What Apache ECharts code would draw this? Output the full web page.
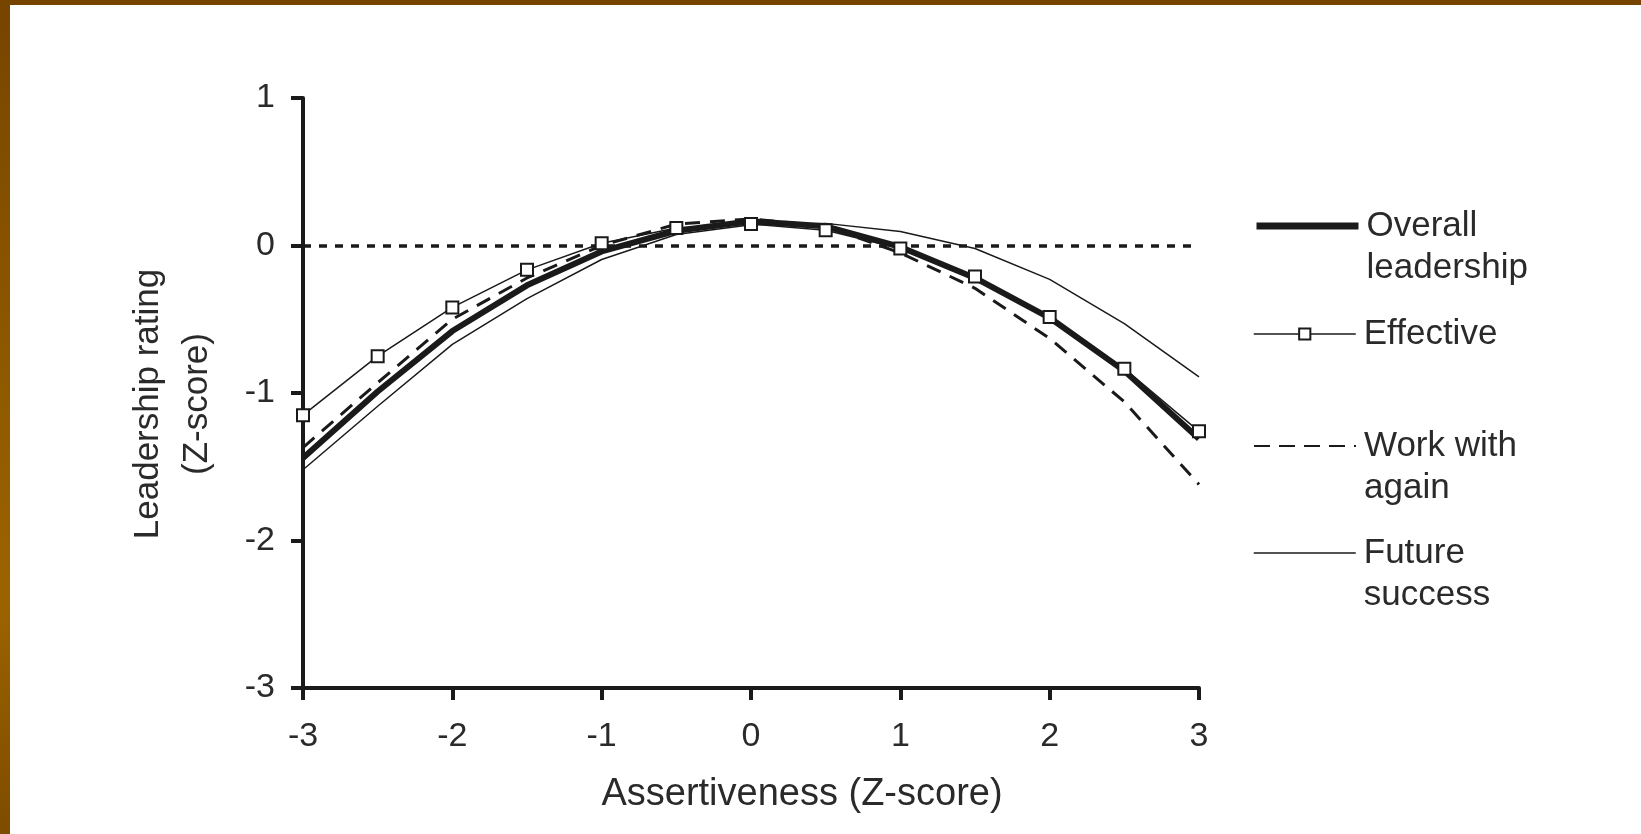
<!DOCTYPE html>
<html><head><meta charset="utf-8">
<script src="https://cdn.jsdelivr.net/npm/echarts@6/dist/echarts.min.js"></script>
<style>
html,body{margin:0;padding:0;background:#fff;width:1641px;height:834px;overflow:hidden}
#chart{position:absolute;left:0;top:0;width:1641px;height:834px}
#bt{position:absolute;left:0;top:0;width:1641px;height:5px;background:#774400;z-index:2}
#bl{position:absolute;left:0;top:0;width:10px;height:834px;background:linear-gradient(#774400,#875300 30%,#9c6300 72%,#7e4c00);z-index:2}
</style></head>
<body><div id="chart"></div><div id="bt"></div><div id="bl"></div>
<script>
// ---- data ----
const xValues = [-3, -2.5, -2, -1.5, -1, -0.5, 0, 0.5, 1, 1.5, 2, 2.5, 3];
const overallLeadership = [-1.44, -0.99, -0.58, -0.27, -0.04, 0.10, 0.165, 0.13, -0.01, -0.22, -0.49, -0.85, -1.31];
const effective = [-1.15, -0.75, -0.42, -0.165, 0.015, 0.118, 0.145, 0.103, -0.02, -0.21, -0.485, -0.835, -1.26];
const workWithAgain = [-1.37, -0.93, -0.50, -0.22, 0.0, 0.145, 0.18, 0.13, -0.05, -0.29, -0.63, -1.06, -1.62];
const futureSuccess = [-1.52, -1.09, -0.67, -0.36, -0.095, 0.075, 0.14, 0.15, 0.095, -0.02, -0.23, -0.53, -0.89];
const seriesNames = ['Overall\nleadership', 'Effective', 'Work with\nagain', 'Future\nsuccess'];
const xTitle = 'Assertiveness (Z-score)';
const yTitle = 'Leadership rating\n(Z-score)';
const referenceLine = 0;

const pairs = arr => xValues.map((x, i) => [x, arr[i]]);
const FONT = '"Liberation Sans", Arial, sans-serif';
const INK = '#1a1a1a';
const TXT = '#2a2a2a';

const chart = echarts.init(document.getElementById('chart'));

function legendFor(name, top, lineStyle, showSymbol) {
  return {
    data: [name], left: 1253, top: top, orient: 'vertical', padding: 0,
    itemWidth: 102, itemHeight: 14, selectedMode: false,
    lineStyle: lineStyle,
    itemStyle: showSymbol ? { color: '#fff', borderColor: INK, borderWidth: 2 } : { opacity: 0 },
    formatter: function (n) {
      const lines = n.split('\n');
      const body = lines.map(s => '{t|' + s + '}').join('\n');
      return lines.length > 1 ? '{t| }\n' + body : body;
    },
    textStyle: {
      fontFamily: FONT, fontSize: 35, color: TXT, lineHeight: 42,
      rich: { t: { fontFamily: FONT, fontSize: 35, color: TXT, lineHeight: 42, padding: [0, 0, 0, 3] } }
    }
  };
}

chart.setOption({
  animation: false,
  backgroundColor: '#fff',
  grid: { left: 303, right: 442, top: 98, bottom: 146, containLabel: false, outerBoundsMode: 'none' },
  legend: [
    legendFor(seriesNames[0], 163, { color: INK, width: 7 }, false),
    legendFor(seriesNames[1], 313, { color: INK, width: 1.5 }, true),
    legendFor(seriesNames[2], 383, { color: INK, width: 2, type: [16, 9] }, false),
    legendFor(seriesNames[3], 490, { color: INK, width: 1.5 }, false)
  ],
  xAxis: {
    type: 'value', min: -3, max: 3, interval: 1,
    name: xTitle, nameLocation: 'middle', nameGap: 88,
    nameTextStyle: { fontFamily: FONT, fontSize: 38, color: TXT, padding: [0, 0, 0, 102] },
    axisLine: { show: true, onZero: false, lineStyle: { color: INK, width: 4 } },
    axisTick: { show: true, inside: false, length: 12, lineStyle: { color: INK, width: 4 } },
    axisLabel: { fontFamily: FONT, fontSize: 34, color: TXT, margin: 32 },
    splitLine: { show: false }
  },
  yAxis: {
    type: 'value', min: -3, max: 1, interval: 1,
    name: yTitle, nameLocation: 'middle', nameRotate: 90, nameGap: 81,
    nameTextStyle: { fontFamily: FONT, fontSize: 35, color: TXT, lineHeight: 49, align: 'center', padding: [0, 22, 0, 0] },
    axisLine: { show: true, onZero: false, lineStyle: { color: INK, width: 4 } },
    axisTick: { show: true, inside: false, length: 12, lineStyle: { color: INK, width: 4 } },
    axisLabel: { fontFamily: FONT, fontSize: 34, color: TXT, margin: 28 },
    splitLine: { show: false }
  },
  series: [
    {
      name: seriesNames[0], type: 'line', data: pairs(overallLeadership),
      symbol: 'none', z: 3,
      lineStyle: { color: INK, width: 6 }, itemStyle: { color: INK },
      markLine: {
        silent: true, symbol: 'none', label: { show: false }, z: 1,
        lineStyle: { color: INK, width: 3.5, type: [8, 8] },
        data: [{ yAxis: referenceLine }]
      }
    },
    {
      name: seriesNames[1], type: 'line', data: pairs(effective),
      symbol: 'rect', symbolSize: 12, showSymbol: true, z: 5,
      lineStyle: { color: INK, width: 1.5 },
      itemStyle: { color: '#fff', borderColor: INK, borderWidth: 2 }
    },
    {
      name: seriesNames[2], type: 'line', data: pairs(workWithAgain),
      symbol: 'none', z: 2,
      lineStyle: { color: INK, width: 3, type: [15, 10] }, itemStyle: { color: INK }
    },
    {
      name: seriesNames[3], type: 'line', data: pairs(futureSuccess),
      symbol: 'none', z: 2,
      lineStyle: { color: INK, width: 1.5 }, itemStyle: { color: INK }
    }
  ]
});
</script>
</body></html>
